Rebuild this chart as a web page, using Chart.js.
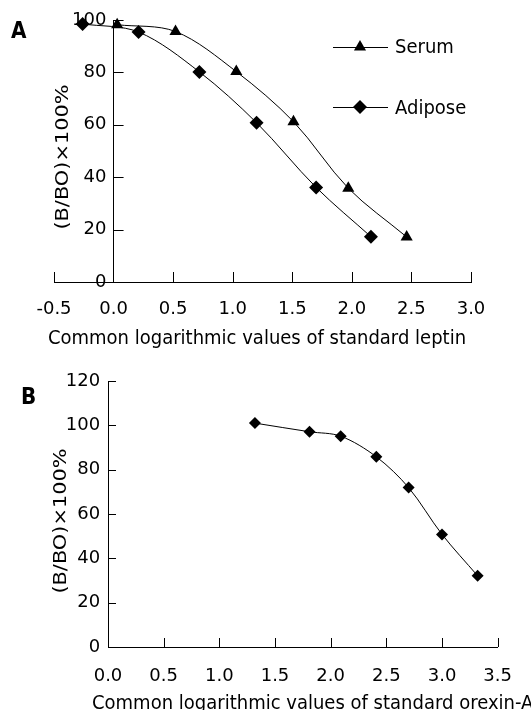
<!DOCTYPE html>
<html>
<head>
<meta charset="utf-8">
<script src="https://cdn.jsdelivr.net/npm/chart.js@4"></script>
<style>
    body { margin: 0; width: 531px; height: 710px; position: relative; overflow: hidden; background: #fff; font-family: 'DejaVu Sans', sans-serif; color: #000; }
    .panel { position: absolute; left: 0; width: 531px; height: 350px; }
    .txt { position: absolute; white-space: nowrap; font-size: 18px; line-height: 1; }
    .letter { font-weight: bold; font-size: 20px; transform: scaleY(1.15); transform-origin: 0 0; }
    .ytitle { transform: translate(-50%, -50%) rotate(-90deg) scaleX(1.16); }
</style>
</head>
<body>
<div class="panel" style="top:0"><canvas id="chart-a" width="531" height="350"></canvas></div>
<div class="panel" style="top:360px"><canvas id="chart-b" width="531" height="350"></canvas></div>

<div class="txt letter" style="left:11px;top:18px">A</div>
<div class="txt letter" style="left:21px;top:384px">B</div>
<div class="txt ytitle" style="left:62px;top:157px">(B/BO)×100%</div>
<div class="txt ytitle" style="left:60px;top:521px">(B/BO)×100%</div>
<div class="txt" style="left:257px;top:337px;transform:translate(-50%,-50%) scaleY(1.12)">Common logarithmic values of standard leptin</div>
<div class="txt" style="left:92px;top:702px;transform:translateY(-50%) scaleY(1.12)">Common logarithmic values of standard orexin-A</div>
<div class="txt" style="left:395px;top:37px;transform:scaleY(1.12)">Serum</div>
<div class="txt" style="left:395px;top:98px;transform:scaleY(1.12)">Adipose</div>

<script>
// Panel A: leptin standard curves
const serumX = [0.03, 0.52, 1.03, 1.51, 1.97, 2.46];
const serumY = [98.2, 95.6, 80.3, 61.2, 35.8, 17.2];
const adiposeX = [-0.26, 0.21, 0.72, 1.20, 1.70, 2.16];
const adiposeY = [98.5, 95.4, 80.2, 60.8, 36.1, 17.3];
const leptinXTicks = [-0.5, 0, 0.5, 1, 1.5, 2, 2.5, 3];
const leptinYTicks = [0, 20, 40, 60, 80, 100];

// Panel B: orexin-A standard curve
const orexinX = [1.32, 1.81, 2.09, 2.41, 2.70, 3.00, 3.32];
const orexinY = [101.0, 97.1, 95.1, 85.8, 71.9, 50.8, 32.1];
const orexinXTicks = [0, 0.5, 1, 1.5, 2, 2.5, 3, 3.5];
const orexinYTicks = [0, 20, 40, 60, 80, 100, 120];

Chart.defaults.font.family = "'DejaVu Sans', sans-serif";
Chart.defaults.font.size = 18;
Chart.defaults.color = '#000';

function toPoints(xs, ys) {
    return xs.map((x, i) => ({ x: x, y: ys[i] }));
}

function fixedTicks(values) {
    return scale => { scale.ticks = values.map(v => ({ value: v })); };
}

function lineSet(label, xs, ys, style, radius) {
    return {
        label: label,
        data: toPoints(xs, ys),
        showLine: true,
        tension: 0.33,
        borderColor: '#000',
        borderWidth: 1,
        pointStyle: style,
        pointRadius: radius,
        pointHoverRadius: radius,
        pointBackgroundColor: '#000',
        pointBorderColor: '#000',
        pointBorderWidth: 0,
        clip: false
    };
}

// axis that draws only its line; labels come from a twin axis set slightly left
function axisOptions(min, max, ticks, extra) {
    return Object.assign({
        type: 'linear',
        min: min,
        max: max,
        afterBuildTicks: fixedTicks(ticks),
        grid: { display: false, drawTicks: false },
        border: { display: true, color: '#000', width: 1 },
        ticks: { display: false }
    }, extra);
}

// short tick marks pointing into the plot
const innerTicks = {
    id: 'innerTicks',
    afterDraw(chart, args, opts) {
        const ctx = chart.ctx;
        const xs = chart.scales.x;
        const ys = chart.scales.y;
        const x0 = xs.getPixelForValue(0);
        const y0 = ys.getPixelForValue(0);
        ctx.save();
        ctx.strokeStyle = '#000';
        ctx.lineWidth = 1;
        ctx.beginPath();
        xs.ticks.forEach(t => {
            if (t.value === 0) return;
            const px = Math.round(xs.getPixelForValue(t.value)) + 0.5;
            ctx.moveTo(px, y0);
            ctx.lineTo(px, y0 - opts.xLen);
        });
        ys.ticks.forEach(t => {
            if (t.value === 0) return;
            const py = Math.round(ys.getPixelForValue(t.value)) + 0.5;
            ctx.moveTo(x0, py);
            ctx.lineTo(x0 + opts.yLen, py);
        });
        ctx.stroke();
        ctx.restore();
    }
};

// line-marker-line legend keys for panel A
const legendKeys = {
    id: 'legendKeys',
    afterDraw(chart, args, opts) {
        if (!opts.items) return;
        const ctx = chart.ctx;
        ctx.save();
        ctx.strokeStyle = '#000';
        ctx.fillStyle = '#000';
        ctx.lineWidth = 1;
        opts.items.forEach(item => {
            ctx.beginPath();
            ctx.moveTo(333, item.y + 0.5);
            ctx.lineTo(388, item.y + 0.5);
            ctx.stroke();
            const cx = 360, cy = item.y, r = 7;
            ctx.beginPath();
            if (item.style === 'triangle') {
                ctx.moveTo(cx, cy - r);
                ctx.lineTo(cx + r * 0.866, cy + r * 0.5);
                ctx.lineTo(cx - r * 0.866, cy + r * 0.5);
            } else {
                ctx.moveTo(cx, cy - r);
                ctx.lineTo(cx + r, cy);
                ctx.lineTo(cx, cy + r);
                ctx.lineTo(cx - r, cy);
            }
            ctx.closePath();
            ctx.fill();
        });
        ctx.restore();
    }
};

function makeChart(id, cfg) {
    const zeroW = s => { s.width = 0; };
    const zeroH = s => { s.height = 0; };
    return new Chart(document.getElementById(id).getContext('2d'), {
        type: 'scatter',
        data: { datasets: cfg.datasets },
        options: {
            responsive: false,
            animation: false,
            devicePixelRatio: 1,
            layout: { padding: cfg.padding },
            scales: {
                x: axisOptions(cfg.xMin, cfg.xMax, cfg.xTicks, {
                    position: { y: 0 },
                    afterFit: zeroH,
                    ticks: {
                        display: true,
                        autoSkip: false,
                        maxRotation: 0,
                        padding: cfg.xPad,
                        callback: v => v.toFixed(1)
                    }
                }),
                y: axisOptions(cfg.yMin, cfg.yMax, cfg.yTicks, {
                    position: { x: 0 },
                    afterFit: zeroW
                }),
                ylabels: axisOptions(cfg.yMin, cfg.yMax, cfg.yTicks, {
                    axis: 'y',
                    position: { x: cfg.labelX },
                    afterFit: zeroW,
                    border: { display: false },
                    ticks: { display: true, autoSkip: false }
                })
            },
            plugins: {
                legend: { display: false },
                tooltip: { enabled: false },
                innerTicks: { xLen: cfg.xTickLen, yLen: cfg.yTickLen },
                legendKeys: { items: cfg.legendItems }
            }
        },
        plugins: [innerTicks, legendKeys]
    });
}

makeChart('chart-a', {
    datasets: [
        lineSet('Serum', serumX, serumY, 'triangle', 7),
        lineSet('Adipose', adiposeX, adiposeY, 'rectRot', 7)
    ],
    padding: { left: 54, right: 60, top: 20, bottom: 68 },
    xMin: -0.5, xMax: 3, xTicks: leptinXTicks,
    yMin: 0, yMax: 100, yTicks: leptinYTicks,
    labelX: -0.06,
    xPad: 17,
    xTickLen: 10, yTickLen: 10,
    legendItems: [{ y: 47, style: 'triangle' }, { y: 107, style: 'diamond' }]
});

makeChart('chart-b', {
    datasets: [
        lineSet('Orexin-A', orexinX, orexinY, 'rectRot', 6)
    ],
    padding: { left: 108, right: 33, top: 21, bottom: 63 },
    xMin: 0, xMax: 3.5, xTicks: orexinXTicks,
    yMin: 0, yMax: 120, yTicks: orexinYTicks,
    labelX: -0.07,
    xPad: 19,
    xTickLen: 9, yTickLen: 8,
    legendItems: null
});
</script>
</body>
</html>
